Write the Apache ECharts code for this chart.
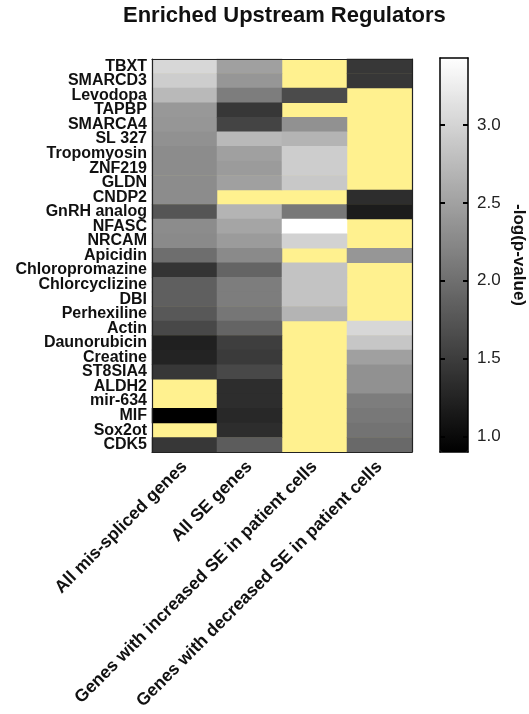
<!DOCTYPE html>
<html>
<head>
<meta charset="utf-8">
<script src="https://cdn.jsdelivr.net/npm/echarts@6/dist/echarts.min.js"></script>
<style>
html,body{margin:0;padding:0;background:#fff;}
#chart{width:529px;height:714px;}
</style>
</head>
<body>
<div id="chart"></div>
<script>
// regulators, top to bottom
var regulators = ["TBXT","SMARCD3","Levodopa","TAPBP","SMARCA4","SL 327","Tropomyosin","ZNF219","GLDN","CNDP2",
    "GnRH analog","NFASC","NRCAM","Apicidin","Chloropromazine","Chlorcyclizine","DBI","Perhexiline","Actin",
    "Daunorubicin","Creatine","ST8SIA4","ALDH2","mir-634","MIF","Sox2ot","CDK5"];
var groups = ["All mis-spliced genes","All SE genes","Genes with increased SE in patient cells","Genes with decreased SE in patient cells"];

// -log(p-value), null = not enriched (yellow)
var misSpliced = [3.03,2.93,2.74,2.41,2.39,2.34,2.29,2.29,2.29,2.29,1.74,2.29,2.27,1.99,1.42,1.84,1.84,1.77,1.61,1.22,1.25,1.45,null,null,0.9,null,1.45];
var allSE      = [2.49,2.39,2.14,1.45,1.57,2.74,2.49,2.44,2.49,null,2.69,2.54,2.44,2.27,1.89,2.14,2.14,2.07,1.89,1.52,1.48,1.61,1.35,1.35,1.30,1.35,1.81];
var increased  = [null,null,1.64,null,2.34,2.69,2.93,2.93,2.88,null,2.09,3.43,2.98,null,2.83,2.83,2.83,2.69,null,null,null,null,null,null,null,null,null];
var decreased  = [1.45,1.45,null,null,null,null,null,null,null,1.35,1.18,null,null,2.39,null,null,null,null,3.03,2.86,2.49,2.34,2.34,2.14,2.09,2.04,1.94];
var colorTicks = [1.0,1.5,2.0,2.5,3.0];

var cols = [misSpliced, allSE, increased, decreased];
var data = [];
cols.forEach(function(col, x){
    col.forEach(function(v, y){
        if (v !== null) data.push([x, y, v]);
    });
});

var font = "Liberation Sans";
var frame = {show: true, onZero: false, lineStyle: {color: "#000", width: 1.5}};
var chart = echarts.init(document.getElementById("chart"));
var option = {
    backgroundColor: "#fff",
    animation: false,
    title: {
        text: "Enriched Upstream Regulators",
        left: 123,
        top: 5,
        padding: 0,
        textStyle: {fontFamily: font, fontSize: 22, fontWeight: "bold", color: "#111"}
    },
    grid: [
        {left: 152, top: 59, width: 260, height: 393, show: true, backgroundColor: "#fff18f", borderWidth: 0, outerBoundsMode: "none"},
        {left: 440, top: 58, width: 28, height: 394, outerBoundsMode: "none"}
    ],
    xAxis: [
        {
            type: "category", gridIndex: 0, data: groups, position: "bottom", zlevel: 1,
            axisLine: {show: true, lineStyle: {color: "#222", width: 1.2}},
            axisTick: {show: false},
            splitLine: {show: false},
            axisLabel: {rotate: 45, interval: 0, margin: 12, fontFamily: font, fontSize: 17.5, fontWeight: "bold", color: "#111"}
        },
        {
            type: "category", gridIndex: 0, data: groups, position: "top", zlevel: 1,
            axisLine: {show: true, lineStyle: {color: "#222", width: 1.2}},
            axisTick: {show: false}, axisLabel: {show: false}
        },
        {
            type: "value", gridIndex: 1, min: 0, max: 1, position: "bottom", zlevel: 1,
            axisLine: frame, axisTick: {show: false}, axisLabel: {show: false}, splitLine: {show: false}
        },
        {
            type: "value", gridIndex: 1, min: 0, max: 1, position: "top", zlevel: 1,
            axisLine: frame, axisTick: {show: false}, axisLabel: {show: false}, splitLine: {show: false}
        }
    ],
    yAxis: [
        {
            type: "category", gridIndex: 0, data: regulators, inverse: true, position: "left", zlevel: 1,
            axisLine: {show: true, lineStyle: {color: "#222", width: 1.2}},
            axisTick: {show: false},
            axisLabel: {interval: 0, margin: 5, fontFamily: font, fontSize: 16, fontWeight: "bold", color: "#111"}
        },
        {
            type: "category", gridIndex: 0, data: regulators, inverse: true, position: "right", zlevel: 1,
            axisLine: {show: true, lineStyle: {color: "#222", width: 1.2}},
            axisTick: {show: false}, axisLabel: {show: false}
        },
        {
            type: "value", gridIndex: 1, xAxisIndex: 2, min: 0.9, max: 3.43, position: "right", zlevel: 1,
            name: "-log(p-value)", nameLocation: "middle", nameRotate: -90, nameGap: 42,
            nameTextStyle: {fontFamily: font, fontSize: 17, fontWeight: "bold", color: "#111"},
            axisLine: frame,
            axisTick: {show: true, inside: true, length: 5, customValues: colorTicks, lineStyle: {color: "#000", width: 2}},
            axisLabel: {customValues: colorTicks, margin: 9, fontFamily: font, fontSize: 17, color: "#222",
                formatter: function(v){ return v.toFixed(1); }},
            splitLine: {show: false}
        },
        {
            type: "value", gridIndex: 1, min: 0.9, max: 3.43, position: "left", zlevel: 1,
            axisLine: frame,
            axisTick: {show: true, inside: true, length: 5, customValues: colorTicks, lineStyle: {color: "#000", width: 2}},
            axisLabel: {show: false},
            splitLine: {show: false}
        }
    ],
    visualMap: {
        type: "continuous",
        seriesIndex: 0,
        min: 0.9,
        max: 3.43,
        calculable: false,
        hoverLink: false,
        orient: "vertical",
        left: 440,
        top: 58,
        padding: 0,
        zlevel: 0,
        itemWidth: 28,
        itemHeight: 394,
        text: null,
        inRange: {color: ["#000000", "#ffffff"]}
    },
    series: [{
        type: "heatmap",
        xAxisIndex: 0,
        yAxisIndex: 0,
        data: data,
        emphasis: {disabled: true}
    }]
};
chart.setOption(option);
</script>
</body>
</html>
